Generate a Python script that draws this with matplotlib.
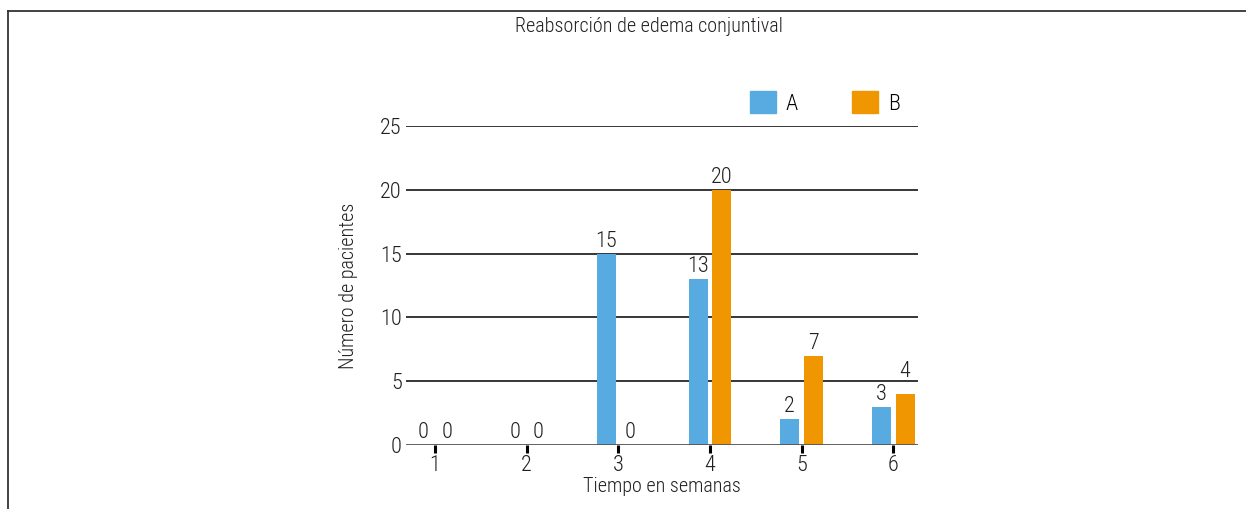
import matplotlib.pyplot as plt
from matplotlib import font_manager
from matplotlib.lines import Line2D
from matplotlib.patches import Patch

# buscar una fuente estrecha instalada (la original es condensada)
fuente, ancho = 'DejaVu Sans', 'normal'
preferidas = ['Liberation Sans Narrow', 'Roboto Condensed', 'Open Sans Condensed',
              'Noto Sans', 'Noto Sans Condensed', 'DejaVu Sans', 'Roboto', 'Open Sans']
cands = [f for f in font_manager.fontManager.ttflist
         if f.stretch not in ('normal', 'medium', 500) or 'Narrow' in f.name
         or 'Condensed' in f.name]
cands.sort(key=lambda f: (preferidas.index(f.name) if f.name in preferidas else 99))
if cands:
    fuente = cands[0].name
    ancho = cands[0].stretch if isinstance(cands[0].stretch, str) else 'condensed'

plt.rcParams['font.family'] = [fuente, 'DejaVu Sans']
plt.rcParams['font.stretch'] = ancho
plt.rcParams['font.weight'] = 'light'
plt.rcParams['axes.labelweight'] = 'light'

semanas = ['1', '2', '3', '4', '5', '6']
grupo_a = [0, 0, 15, 13, 2, 3]
grupo_b = [0, 0, 0, 20, 7, 4]
series = ['A', 'B']

COLOR_A = '#57abe0'
COLOR_B = '#f09600'
TEXT = '#231f20'
BAR_W = 0.207
OFFSET = 0.13
FS = 14.5
FS_NUM = 16

fig = plt.figure(figsize=(12.46, 5.09), dpi=100)
ax = fig.add_axes([406 / 1246, 64 / 509, 512 / 1246, 319 / 509])

x = list(range(len(semanas)))
bars_a = ax.bar([i - OFFSET for i in x], grupo_a, BAR_W, color=COLOR_A, zorder=3)
bars_b = ax.bar([i + OFFSET for i in x], grupo_b, BAR_W, color=COLOR_B, zorder=3)

ax.set_xlim(-0.316, 5.27)
ax.set_ylim(0, 25)
ax.set_yticks(range(0, 26, 5))
ax.set_xticks(x)
ax.set_xticklabels(semanas)

# lineas horizontales
for v in range(5, 26, 5):
    ax.axhline(v, color='black', lw=1.1, zorder=2)
ax.axhline(0, color='#555555', lw=1.3, zorder=4)

for s in ax.spines.values():
    s.set_visible(False)

ax.tick_params(axis='y', length=0, pad=3, labelsize=FS_NUM, labelcolor=TEXT)
ax.tick_params(axis='x', length=6, width=2.2, color='black', pad=1,
               labelsize=FS_NUM, labelcolor=TEXT)

# etiquetas de valor (si chocan con una linea, se suben)
px_per_unit = 319 / 25
alto_txt = 16  # px, altura de las cifras
for bars in (bars_a, bars_b):
    for b in bars:
        h = b.get_height()
        off = 7
        base = h + off / px_per_unit
        top = base + alto_txt / px_per_unit
        for g in range(5, 26, 5):
            if base - 2 / px_per_unit < g < top + 1 / px_per_unit:
                off = (g - h) * px_per_unit + 4
        ax.annotate(str(int(h)), (b.get_x() + b.get_width() / 2, h),
                    xytext=(0, off * 0.72), textcoords='offset points',
                    ha='center', va='baseline', fontsize=FS_NUM, color=TEXT)

ax.set_ylabel('Número de pacientes', fontsize=FS, color=TEXT, labelpad=16)
ax.set_xlabel('Tiempo en semanas', fontsize=FS, color=TEXT, labelpad=1)

fig.text(649 / 1246, 1 - 26 / 509, 'Reabsorción de edema conjuntival',
         ha='center', va='center', fontsize=FS, color=TEXT)

handles = [Patch(color=COLOR_A), Patch(color=COLOR_B)]
ax.legend(handles, series, loc='lower left', bbox_to_anchor=(0.672, 1.035),
          ncol=2, frameon=False, fontsize=FS_NUM, handlelength=1.15,
          handleheight=1.15, handletextpad=0.45, columnspacing=2.45,
          borderaxespad=0, borderpad=0)

# marco de la figura
fig.add_artist(Line2D([8 / 1246, 8 / 1246], [0, 1 - 10.5 / 509],
                      color='#333333', lw=1.3, transform=fig.transFigure))
fig.add_artist(Line2D([8 / 1246, 1], [1 - 10.5 / 509, 1 - 10.5 / 509],
                      color='#333333', lw=1.3, transform=fig.transFigure))

fig.savefig('out.png', dpi=100)
